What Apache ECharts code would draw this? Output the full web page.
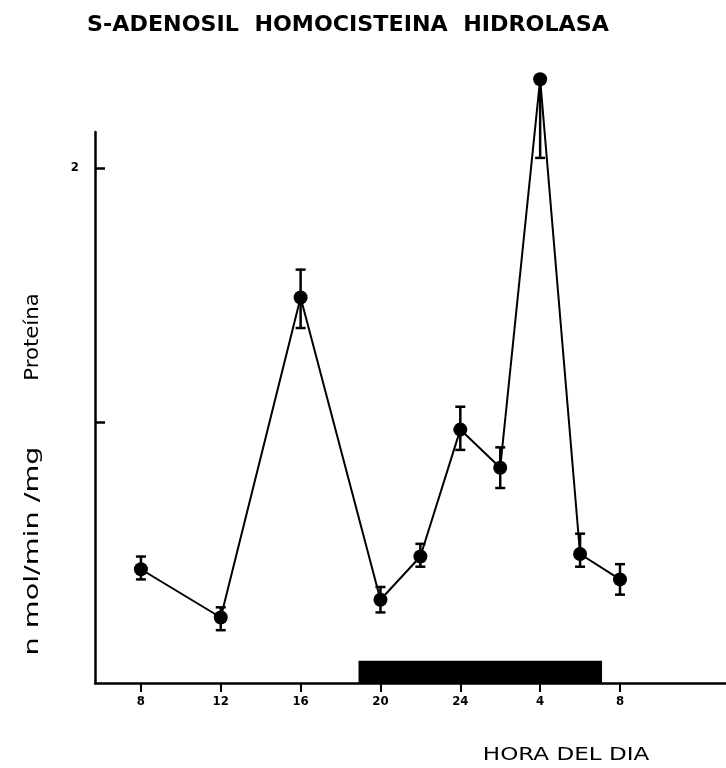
<!DOCTYPE html>
<html>
<head>
<meta charset="utf-8">
<script src="https://cdn.jsdelivr.net/npm/echarts@6/dist/echarts.min.js"></script>
<style>html,body{margin:0;padding:0;background:#fff}#c{width:726px;height:768px}</style>
</head>
<body>
<div id="c"></div>
<script>
// ---- data ----
var hours = [8, 12, 16, 20, 22, 24, 26, 28, 30, 32];
var values = [0.42, 0.23, 1.49, 0.30, 0.47, 0.97, 0.82, 2.35, 0.48, 0.38];
var errUp = [0.05, 0.04, 0.11, 0.05, 0.05, 0.09, 0.08, 0, 0.08, 0.06];
var errDown = [0.04, 0.05, 0.12, 0.05, 0.04, 0.08, 0.08, 0.31, 0.05, 0.06];
var xTicks = [8, 12, 16, 20, 24, 28, 32];
var xTickLabels = ['8', '12', '16', '20', '24', '4', '8'];
var yTicks = [1, 2];
var yTickLabels = [2];
var darkPeriod = [18.9, 31.1];
var titleText = 'S-ADENOSIL  HOMOCISTEINA  HIDROLASA';
var yName1 = 'n mol/min /mg';
var yName2 = 'Proteína';
var xName = 'HORA DEL DIA';

// ---- build ----
var yMin = -0.028, yMax = 2.142;
var lineData = hours.map(function (h, i) { return [h, values[i]]; });
var errData = hours.map(function (h, i) { return [h, values[i] + errUp[i], values[i] - errDown[i], errUp[i] > 0 ? 1 : 0]; });

var chart = echarts.init(document.getElementById('c'), null, { renderer: 'canvas' });
chart.setOption({
  animation: false,
  backgroundColor: '#fff',
  grid: { left: 95, right: 0, top: 132, bottom: 85, containLabel: false },
  xAxis: {
    type: 'value', min: 5.7, max: 37.31,
    splitLine: { show: false },
    axisLine: { onZero: false, lineStyle: { color: '#000', width: 2.5 } },
    axisTick: { show: true, customValues: xTicks, inside: false, length: 9, lineStyle: { color: '#000', width: 2 } },
    axisLabel: {
      customValues: xTicks, margin: 12, color: '#000', fontSize: 13, fontWeight: 'bold',
      fontFamily: 'DejaVu Sans Condensed',
      formatter: function (v) { var i = xTicks.indexOf(v); return i >= 0 ? xTickLabels[i] : ''; }
    }
  },
  yAxis: {
    type: 'value', min: yMin, max: yMax,
    splitLine: { show: false },
    axisLine: { show: true, onZero: false, lineStyle: { color: '#000', width: 2.5 } },
    axisTick: { show: true, customValues: yTicks, inside: true, length: 10, lineStyle: { color: '#000', width: 2.5 } },
    axisLabel: { customValues: yTickLabels, margin: 16, color: '#000', fontSize: 13, fontWeight: 'bold', fontFamily: 'DejaVu Sans Condensed' }
  },
  graphic: [
    { type: 'text', x: 348, y: 25, scaleX: 1.11, scaleY: 1.08, style: { text: titleText, fill: '#000', font: 'bold 20px "DejaVu Sans"', align: 'center', verticalAlign: 'middle' } },
    { type: 'text', x: 33, y: 551, rotation: Math.PI / 2, scaleX: 1.59, style: { text: yName1, fill: '#000', font: '20px "DejaVu Sans Condensed"', align: 'center', verticalAlign: 'middle' } },
    { type: 'text', x: 33, y: 337, rotation: Math.PI / 2, scaleX: 1.18, style: { text: yName2, fill: '#000', font: '20px "DejaVu Sans Condensed"', align: 'center', verticalAlign: 'middle' } },
    { type: 'text', x: 566, y: 755, scaleX: 1.28, style: { text: xName, fill: '#000', font: '18px "DejaVu Sans"', align: 'center', verticalAlign: 'middle' } }
  ],
  series: [
    {
      type: 'line', data: lineData, clip: false, z: 3,
      symbol: 'circle', symbolSize: 14,
      lineStyle: { color: '#000', width: 2 },
      itemStyle: { color: '#000' },
      markArea: {
        silent: true,
        itemStyle: { color: '#000' },
        data: [[{ xAxis: darkPeriod[0], yAxis: yMin }, { xAxis: darkPeriod[1], yAxis: 0.06 }]]
      }
    },
    {
      type: 'custom', clip: false, z: 4,
      data: errData,
      renderItem: function (params, api) {
        var x = api.value(0);
        var pHi = api.coord([x, api.value(1)]);
        var pLo = api.coord([x, api.value(2)]);
        var hasHi = api.value(3) === 1;
        var w = 5;
        var st = { stroke: '#000', lineWidth: 2.5 };
        var ch = [
          { type: 'line', shape: { x1: pHi[0], y1: pHi[1], x2: pLo[0], y2: pLo[1] }, style: st },
          { type: 'line', shape: { x1: pLo[0] - w, y1: pLo[1], x2: pLo[0] + w, y2: pLo[1] }, style: st }
        ];
        if (hasHi) ch.push({ type: 'line', shape: { x1: pHi[0] - w, y1: pHi[1], x2: pHi[0] + w, y2: pHi[1] }, style: st });
        return { type: 'group', children: ch };
      }
    }
  ]
});
</script>
</body>
</html>
